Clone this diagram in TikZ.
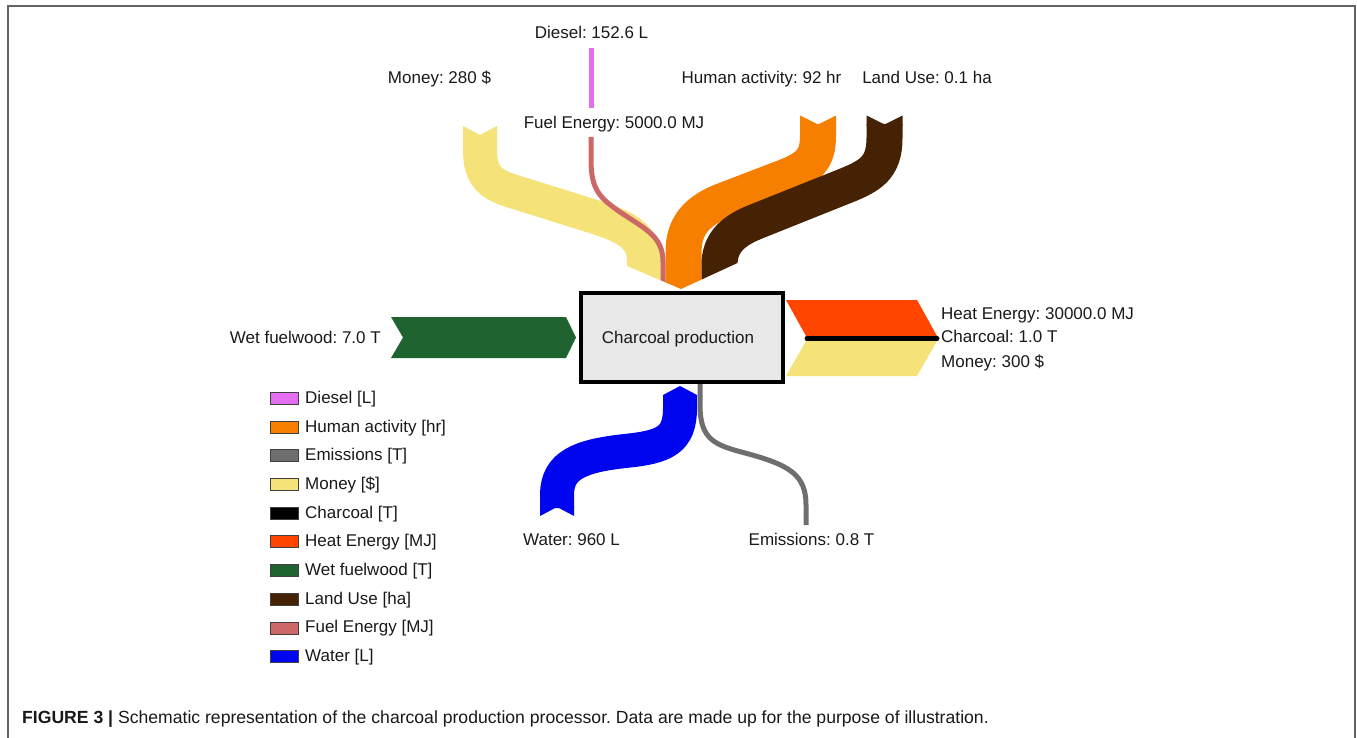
\documentclass[tikz,border=0pt]{standalone}
\usepackage{fontspec}
\setmainfont{Liberation Sans}
\usetikzlibrary{calc}
\frenchspacing

\definecolor{cDiesel}{RGB}{228,110,240}
\definecolor{cHuman}{RGB}{247,127,0}
\definecolor{cEmis}{RGB}{110,110,110}
\definecolor{cMoney}{RGB}{245,227,122}
\definecolor{cCoal}{RGB}{0,0,0}
\definecolor{cHeat}{RGB}{255,69,0}
\definecolor{cWood}{RGB}{31,100,48}
\definecolor{cLand}{RGB}{69,34,4}
\definecolor{cFuel}{RGB}{205,104,104}
\definecolor{cWater}{RGB}{0,5,240}
\definecolor{cBox}{RGB}{232,232,232}
\definecolor{cFrame}{RGB}{100,100,100}
\definecolor{cText}{RGB}{25,25,25}

\tikzset{
  lbl/.style={font=\fontsize{17}{20}\selectfont, text=cText, inner sep=0pt},
  procbox/.style={draw=black, line width=4pt, fill=cBox, minimum width=202pt,
    minimum height=89pt, inner sep=0pt, font=\fontsize{17}{20}\selectfont},
  swatch/.style={draw=black!75, line width=0.8pt, minimum width=28pt,
    minimum height=12pt, inner sep=0pt},
  band/.style={line width=#1, line cap=butt, line join=round},
  thinflow/.style={line width=5pt, line cap=butt},
}

\begin{document}
\begin{tikzpicture}[x=1pt, y=-1pt]
\useasboundingbox (0,0) rectangle (1357,738);

% outer frame (open at the bottom)
\draw[cFrame, line width=2pt] (8,760) -- (8,6) -- (1355,6) -- (1355,760);

% process node
\node[procbox] (proc) at (682,337.5) {};
\node[lbl, anchor=base] (proclbl) at (678,343.3) {Charcoal production};

% ---------- inflows from the top, merging into one arrowhead ----------
\coordinate (tip) at ($(proc.north)+(-1,-2)$);
\begin{scope}
  \clip (380,0) -- (1010,0) -- (1010,263) -- (737.5,263) -- (tip)
        -- (627,266) -- (380,266) -- cycle;
  % money in
  \draw[cMoney, band=34pt] (480,135) -- (480,150)
      .. controls (480,178) and (492,185) .. (515,192) -- (595,217)
      .. controls (630,228) and (644,238) .. (644,262) -- (644,300);
  \fill[cMoney] (463,126) -- (480,135) -- (497,126) -- (497,137) -- (463,137) -- cycle;
  % fuel energy
  \draw[cFuel, thinflow] (591,137) -- (591,160)
      .. controls (591,190) and (600,198) .. (620,212)
      .. controls (645,229) and (663,236) .. (663,262) -- (663,300);
  % human activity
  \draw[cHuman, band=36pt] (818,124) -- (818,136)
      .. controls (818,160) and (808,168) .. (785,177) -- (725,200)
      .. controls (698,210) and (683.5,225) .. (683.5,252) -- (683.5,300);
  \fill[cHuman] (800,115.5) -- (818,124.5) -- (836,115.5) -- (836,126) -- (800,126) -- cycle;
  % land use
  \draw[cLand, band=36pt] (884.5,124) -- (884.5,138)
      .. controls (884.5,168) and (870,176) .. (845,186) -- (755,222)
      .. controls (730,232) and (719.5,245) .. (719.5,265) -- (719.5,300);
  \fill[cLand] (866.5,115.5) -- (884.5,124.5) -- (902.5,115.5) -- (902.5,126) -- (866.5,126) -- cycle;
\end{scope}

% diesel feeding the fuel energy flow
\draw[cDiesel, thinflow] (591,48) -- (591,108);

% ---------- wet fuelwood in from the left ----------
\fill[cWood] (391,317) -- (566,317) -- ($(proc.west)+(-3,0)$) -- (566,358)
      -- (391,358) -- (403,337.5) -- cycle;

% ---------- outflows to the right ----------
\fill[cHeat] (786,300) -- (917,300) -- (937,336) -- (806,336) -- cycle;
\fill[cMoney] (806,341) -- (937,341) -- (917,376) -- (786,376) -- cycle;
\draw[cCoal, line width=5pt, line cap=round] (807,338.5) -- (937,338.5);

% ---------- outflows at the bottom ----------
\draw[cWater, band=34pt] (680,395) -- (680,408)
    .. controls (680,440) and (665,447) .. (625,451)
    .. controls (580,456) and (557,465) .. (557,495) -- (557,508);
\fill[cWater] (663,396) -- (663,395) -- ($(proc.south)+(-2,2)$) -- (697,395) -- (697,396) -- cycle;
\fill[cWater] (540,506) -- (574,506) -- (574,516) -- (557,507) -- (540,516) -- cycle;

\draw[cEmis, thinflow] ($(proc.south)+(18,0)$) -- (700,405)
    .. controls (700,440) and (715,445) .. (745,453)
    .. controls (790,465) and (806,475) .. (806,505) -- (806,525);

% ---------- flow labels ----------
\node[lbl, anchor=base] (lDiesel) at (591.5,38.3) {Diesel: 152.6 L};
\node[lbl, anchor=base] (lMoneyIn) at (439.5,83.3) {Money: 280 \$};
\node[lbl, anchor=base] (lFuel) at (614,128.3) {Fuel Energy: 5000.0 MJ};
\node[lbl, anchor=base] (lHuman) at (761.5,83.3) {Human activity: 92 hr};
\node[lbl, anchor=base] (lLand) at (927,83.3) {Land Use: 0.1 ha};
\node[lbl, anchor=base east] (lWood) at (381,343.3) {Wet fuelwood: 7.0 T};
\node[lbl, anchor=base west] (lHeat) at (941,319.5) {Heat Energy: 30000.0 MJ};
\node[lbl, anchor=base west] (lCoal) at (941,342.7) {Charcoal: 1.0 T};
\node[lbl, anchor=base west] (lMoneyOut) at (941,367.3) {Money: 300 \$};
\node[lbl, anchor=base] (lWater) at (571.5,545.7) {Water: 960 L};
\node[lbl, anchor=base] (lEmis) at (811.5,545.7) {Emissions: 0.8 T};

% ---------- legend ----------
\foreach \c/\t [count=\k from 0] in {
    cDiesel/{Diesel [L]}, cHuman/{Human activity [hr]}, cEmis/{Emissions [T]},
    cMoney/{Money [\$]}, cCoal/{Charcoal [T]}, cHeat/{Heat Energy [MJ]},
    cWood/{Wet fuelwood [T]}, cLand/{Land Use [ha]}, cFuel/{Fuel Energy [MJ]},
    cWater/{Water [L]}} {
  \node[swatch, fill=\c] (sw\k) at (284, {398.3+28.71*\k}) {};
  \node[lbl, anchor=base west] (lg\k) at (305, {403.3+28.71*\k}) {\t};
}

% ---------- caption ----------
\node[font=\fontsize{17.6}{21}\selectfont, text=cText, inner sep=0pt, anchor=base west]
  (caption) at (22,723) {\textbf{FIGURE 3 |} Schematic representation of the charcoal production processor. Data are made up for the purpose of illustration.};
\end{tikzpicture}
\end{document}
